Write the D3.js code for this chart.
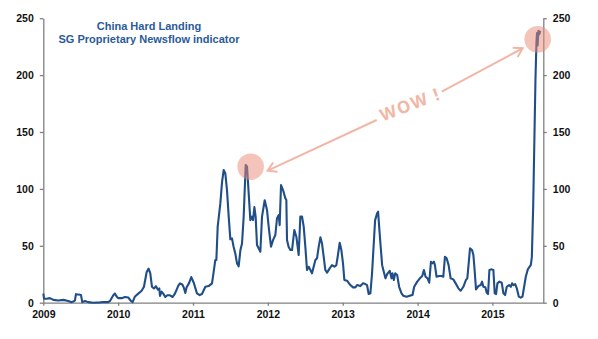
<!DOCTYPE html>
<html><head><meta charset="utf-8">
<script src="https://cdn.jsdelivr.net/npm/d3@7"></script>
<style>
html,body{margin:0;padding:0;background:#fff;}
svg{display:block;font-family:"Liberation Sans",Arial,sans-serif;}
</style></head>
<body><svg id="c" width="598" height="339"></svg>
<script>
const titleLines = ["China Hard Landing", "SG Proprietary Newsflow indicator"];
const xTicks = [2009, 2010, 2011, 2012, 2013, 2014, 2015];
const yTicks = [0, 50, 100, 150, 200, 250];
const annotationText = "WOW !";
const highlightA = [2011.77, 119.5];
const highlightB = [2015.605, 231.5];

const dates = [
2009.000,2009.010,2009.045,2009.089,2009.134,2009.200,2009.267,2009.334,2009.379,2009.401,2009.423,2009.436,2009.490,2009.503,2009.521,2009.557,2009.601,2009.668,2009.757,2009.811,2009.868,2009.891,2009.935,2009.957,2009.980,
2010.000,2010.046,2010.091,2010.136,2010.171,2010.193,2010.225,2010.269,2010.314,2010.345,2010.381,2010.407,2010.429,2010.452,2010.478,2010.505,2010.532,2010.550,2010.559,2010.581,2010.603,2010.630,2010.657,2010.692,2010.728,2010.759,2010.804,2010.826,2010.857,2010.879,2010.897,2010.915,2010.946,2010.977,
2011.010,2011.053,2011.089,2011.120,2011.165,2011.209,2011.254,2011.276,2011.298,2011.312,2011.330,2011.365,2011.388,2011.410,2011.432,2011.454,2011.477,2011.499,2011.521,2011.543,2011.566,2011.588,2011.610,2011.633,2011.655,2011.677,2011.704,2011.722,2011.744,2011.766,2011.788,2011.802,2011.820,2011.837,2011.855,2011.878,2011.900,2011.922,2011.958,2011.989,
2012.011,2012.042,2012.069,2012.100,2012.122,2012.145,2012.158,2012.176,2012.203,2012.234,2012.247,2012.256,2012.278,2012.301,2012.323,2012.354,2012.381,2012.412,2012.434,2012.457,2012.479,2012.501,2012.523,2012.546,2012.568,2012.590,2012.612,2012.635,2012.657,2012.679,2012.702,2012.724,2012.746,2012.768,2012.791,2012.826,2012.857,2012.889,2012.915,2012.933,2012.960,2012.982,
2013.004,2013.022,2013.058,2013.102,2013.138,2013.169,2013.192,2013.236,2013.272,2013.303,2013.325,2013.347,2013.370,2013.392,2013.415,2013.433,2013.460,2013.473,2013.487,2013.504,2013.527,2013.549,2013.571,2013.594,2013.629,2013.652,2013.665,2013.683,2013.701,2013.728,2013.754,2013.786,2013.808,2013.853,2013.897,2013.933,2013.955,2013.996,
2014.031,2014.063,2014.085,2014.107,2014.134,2014.156,2014.179,2014.201,2014.219,2014.232,2014.254,2014.286,2014.321,2014.344,2014.366,2014.388,2014.415,2014.442,2014.478,2014.509,2014.545,2014.576,2014.612,2014.647,2014.665,2014.683,2014.701,2014.728,2014.746,2014.759,2014.781,2014.813,2014.844,2014.862,2014.879,2014.906,2014.924,2014.942,2014.960,2014.991,
2015.013,2015.031,2015.049,2015.067,2015.094,2015.125,2015.147,2015.170,2015.192,2015.223,2015.246,2015.263,2015.281,2015.304,2015.326,2015.353,2015.379,2015.402,2015.424,2015.446,2015.473,2015.496,2015.513,2015.527,2015.545,2015.560,2015.575,2015.588,2015.596,2015.604,2015.615,2015.627,2015.640
];
const values = [
8,3.5,3.5,4,2.5,2,2.5,1.5,0.5,1,2,7.5,7,6.8,0.5,1.5,0.5,0,0.3,0.6,0.5,1.5,6.5,8,5.5,
4,4,5,4.5,1.5,0.5,5.5,8,10.5,14,27,30,26,14,12.5,14.5,11.5,12.5,6,9.7,8,5,6.5,6.5,5,8,15,17,16,13,8.5,13.5,17,22.5,
17.5,8.2,6.7,7.6,14,14.6,17,27,37.5,37.5,67,87,106,116.6,113.6,99,75.6,55.7,56.5,49,43,34.5,32,46,52,75.6,121,119.5,96,72.6,75.6,72.6,84,75.6,50.7,47.7,44.8,75.6,90,81.4,
66.8,49.2,55,59.5,74,77,68.2,103.4,99,91.7,90.2,55,49,46.3,46.3,63.9,58,41.9,75.6,75.6,66.8,49,28.7,31.6,28.7,25.8,31.6,37.5,39,49,57.4,52,40.4,28.7,26.4,30.2,33,31.6,33,40.4,52.7,46.3,
34.6,20,19.3,15.5,13.5,13.5,15.5,14.6,17,16.4,15.5,7.6,8.2,25.8,52,72.6,78.5,80,66.8,52,33,27.2,21.4,25.2,28,21.4,25.8,20,25.8,24.3,14,8.2,6.2,5.3,6.2,6.7,14,18.5,
21.4,23.4,28.7,22.8,21.4,17.6,36,34.6,36,33,22.8,23.4,23.4,22.8,40.4,39,33,21.4,20.5,17,12.6,10.5,14,20,21.4,34.6,47.7,46.3,41.9,31.6,11.7,14.6,15.5,18.5,14,13.5,8.8,7.6,28.7,29.3,
28.7,8.2,7.6,17,18.5,17.6,8.2,6.7,14,15.5,14,17,15.5,16.4,12.6,5.3,4.4,5.3,14,22.8,29.3,31.6,33,40,85,140,195,228,237,226,239,236,239
];

const svg = d3.select("#c");
const mLeft = 43.3, mRight = 543.3, mTop = 18.2, mBottom = 302.7;
const x = d3.scaleLinear().domain([2009, 2015.68]).range([mLeft, mRight]);
const y = d3.scaleLinear().domain([0, 250]).range([mBottom, mTop]);
const axisColor = "#808080";

function styleAxis(g){
  g.select(".domain").attr("stroke", axisColor).attr("stroke-width", 1.3);
  g.selectAll(".tick line").attr("stroke", axisColor).attr("stroke-width", 1.3);
  g.selectAll(".tick text").attr("fill", "#111").attr("font-weight", "bold")
    .attr("font-size", "10.5px").attr("font-family", "'Liberation Sans',Arial,sans-serif");
}

svg.append("g").attr("transform", `translate(${mLeft},0)`)
  .call(d3.axisLeft(y).tickValues(yTicks).tickSize(3.5).tickSizeOuter(0).tickPadding(6))
  .call(styleAxis);
svg.append("g").attr("transform", `translate(${mRight},0)`)
  .call(d3.axisRight(y).tickValues(yTicks).tickSize(3.5).tickSizeOuter(0).tickPadding(6))
  .call(styleAxis);
svg.append("g").attr("transform", `translate(0,${mBottom})`)
  .call(d3.axisBottom(x).tickValues(xTicks).tickFormat(d3.format("d")).tickSize(3).tickSizeOuter(0).tickPadding(5))
  .call(styleAxis);

const data = dates.map((d, i) => [d, values[i]]);
svg.append("path").datum(data)
  .attr("fill", "none").attr("stroke", "#1f4e89").attr("stroke-width", 2.1)
  .attr("stroke-linejoin", "round")
  .attr("d", d3.line().x(d => x(d[0])).y(d => y(d[1])));

// title
const t = svg.append("text").attr("text-anchor", "middle").attr("fill", "#2b5a9a")
  .attr("font-weight", "bold").attr("font-size", "11px");
titleLines.forEach((s, i) => t.append("tspan").attr("x", 149).attr("y", 30 + i * 13.3).text(s));

// annotation
const pink = "#f1b7a6";
[highlightA, highlightB].forEach(p => {
  svg.append("circle").attr("cx", x(p[0])).attr("cy", y(p[1])).attr("r", 13.3)
    .attr("fill", "#e98a77").attr("fill-opacity", 0.5);
});
const A = [x(highlightA[0]) + 17, y(highlightA[1]) + 4];
const B = [x(highlightB[0]) - 15, y(highlightB[1]) + 9];
function arrowHead(tip, dirAng){
  const L = 10, spread = 0.55;
  const p1 = [tip[0] + L * Math.cos(dirAng + spread), tip[1] + L * Math.sin(dirAng + spread)];
  const p2 = [tip[0] + L * Math.cos(dirAng - spread), tip[1] + L * Math.sin(dirAng - spread)];
  svg.append("path").attr("d", `M${p1}L${tip}L${p2}`).attr("fill", "none")
    .attr("stroke", pink).attr("stroke-width", 2).attr("stroke-linejoin", "miter");
}
const g1 = [376.7, 120], g2 = [441.7, 91.7];
svg.append("line").attr("x1", A[0]).attr("y1", A[1]).attr("x2", g1[0]).attr("y2", g1[1])
  .attr("stroke", pink).attr("stroke-width", 2);
svg.append("line").attr("x1", g2[0]).attr("y1", g2[1]).attr("x2", B[0]).attr("y2", B[1])
  .attr("stroke", pink).attr("stroke-width", 2);
arrowHead(A, Math.atan2(g1[1] - A[1], g1[0] - A[0]));
arrowHead(B, Math.atan2(g2[1] - B[1], g2[0] - B[0]));
svg.append("text").attr("x", 410).attr("y", 104)
  .attr("transform", "rotate(-21,410,104)")
  .attr("text-anchor", "middle").attr("dominant-baseline", "central")
  .attr("fill", pink).attr("font-weight", "bold").attr("font-size", "17px")
  .attr("letter-spacing", "1.5px").attr("font-family", "'Open Sans','Liberation Sans',Arial,sans-serif")
  .text(annotationText);
</script></body></html>
